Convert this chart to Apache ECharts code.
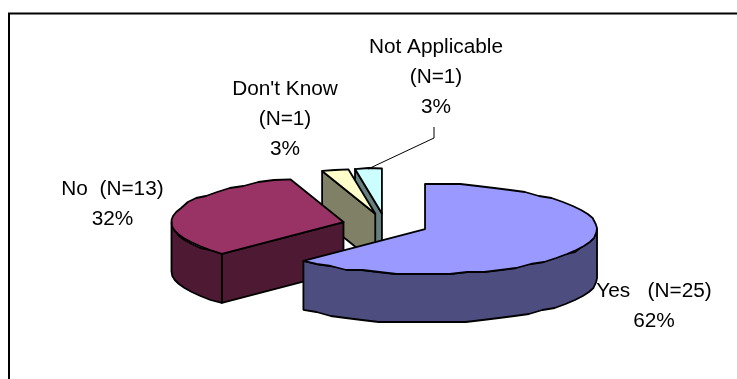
<!DOCTYPE html>
<html>
<head>
<meta charset="utf-8">
<style>html,body{margin:0;padding:0;background:#fff}#chart{width:737px;height:379px}</style>
<script src="https://cdn.jsdelivr.net/npm/echarts@6/dist/echarts.min.js"></script>
</head>
<body>
<div id="chart"></div>
<script>
// Survey answers and the counts behind each slice
var categories = ['Yes', 'No', "Don't Know", 'Not Applicable'];
var counts = [25, 13, 1, 1];
var percentLabels = ['62%', '32%', '3%', '3%'];

// Colours per slice: lid and wall
var topColors = ['#9999FF', '#993366', '#FFFFCC', '#CCFFFF'];
var sideColors = ['#4D4D80', '#4D1933', '#808066', '#668080'];

// Projection of the tilted pie; rim points snap to a coarse device grid
var pie = { cx: 385.3, cy: 224.7, rx: 172, ry: 45, depth: 49, explode: 0.25, step: 6, grid: 2 };

// Label anchors and line breaks, one entry per slice
var labelLayout = [
  { x: 654, y: 276, sep: '   ' },
  { x: 112.5, y: 174.5, sep: '  ' },
  { x: 285, y: 74, sep: '\n' },
  { x: 436, y: 32.5, sep: '\n' }
];
var leaderSlice = 3;
var leaderPoints = [[434, 127], [434, 138], [368, 169]];

var total = counts.reduce(function (a, b) { return a + b; }, 0);
var starts = [];
counts.reduce(function (acc, v, i) { starts[i] = acc; return acc + v / total * 360; }, 0);

function snap(v) { return Math.round(v / pie.grid) * pie.grid; }
function rimPoint(apex, deg, dy) {
  var t = deg * Math.PI / 180;
  return [
    apex[0] + pie.rx * Math.sin(t),
    apex[1] - pie.ry * Math.cos(t) + (dy || 0)
  ];
}
function rimArc(apex, from, to, dy) {
  var pts = [];
  var n = Math.max(1, Math.ceil((to - from) / pie.step));
  for (var i = 0; i <= n; i++) {
    var p = rimPoint(apex, from + (to - from) * i / n, dy);
    // The end points stay exact so the straight cut edges meet them
    if (i > 0 && i < n) p = [p[0], snap(p[1])];
    pts.push(p);
  }
  return pts;
}

function renderSlice(params) {
  var i = params.dataIndex;
  var sweep = counts[i] / total * 360;
  var a = starts[i], b = a + sweep, mid = (a + b) / 2 * Math.PI / 180;
  var apex = [
    pie.cx + pie.explode * pie.rx * Math.sin(mid),
    pie.cy - pie.explode * pie.ry * Math.cos(mid)
  ];
  var base = (categories.length - i) * 10;
  var stroke = { stroke: '#000', lineWidth: 1.8, lineJoin: 'round' };
  var children = [];
  function poly(points, fill, z) {
    children.push({ type: 'polygon', z2: base + z, shape: { points: points },
      style: Object.assign({ fill: fill }, stroke) });
  }
  function face(deg) {
    var rim = rimPoint(apex, deg);
    poly([apex, rim, [rim[0], rim[1] + pie.depth], [apex[0], apex[1] + pie.depth]], sideColors[i], 1);
  }
  // Cut faces turned towards the viewer
  if (a > 180 && a < 360) face(a);
  if (b > 0 && b < 180) face(b);
  // Outer wall along the front half of the rim
  var wa = Math.max(a, 90), wb = Math.min(b, 270);
  if (wb > wa) {
    poly(rimArc(apex, wa, wb, 0).concat(rimArc(apex, wa, wb, pie.depth).reverse()), sideColors[i], 2);
  }
  // Lid
  poly([apex].concat(rimArc(apex, a, b, 0)), topColors[i], 3);

  // Label
  var lay = labelLayout[i];
  children.push({
    type: 'text', z2: 200, x: lay.x, y: lay.y, scaleX: 1.04,
    style: {
      text: categories[i] + lay.sep + '(N=' + counts[i] + ')\n' + percentLabels[i],
      x: 0, y: 0, align: 'center', verticalAlign: 'top',
      fontFamily: '"Liberation Sans", Arial, sans-serif', fontSize: 20, lineHeight: 30, fill: '#000'
    }
  });
  if (i === leaderSlice) {
    children.push({ type: 'polyline', z2: 190, shape: { points: leaderPoints },
      style: { stroke: '#000', lineWidth: 1, fill: 'none' } });
  }
  return { type: 'group', children: children };
}

var chart = echarts.init(document.getElementById('chart'), null, { renderer: 'canvas' });
chart.setOption({
  animation: false,
  backgroundColor: '#fff',
  graphic: [
    { type: 'polyline', silent: true, shape: { points: [[9, 379], [9, 13.5], [737, 13.5]] },
      style: { stroke: '#000', lineWidth: 2, fill: 'none' } }
  ],
  series: [{
    type: 'custom',
    coordinateSystem: 'none',
    silent: true,
    renderItem: renderSlice,
    data: counts
  }]
});
</script>
</body>
</html>
